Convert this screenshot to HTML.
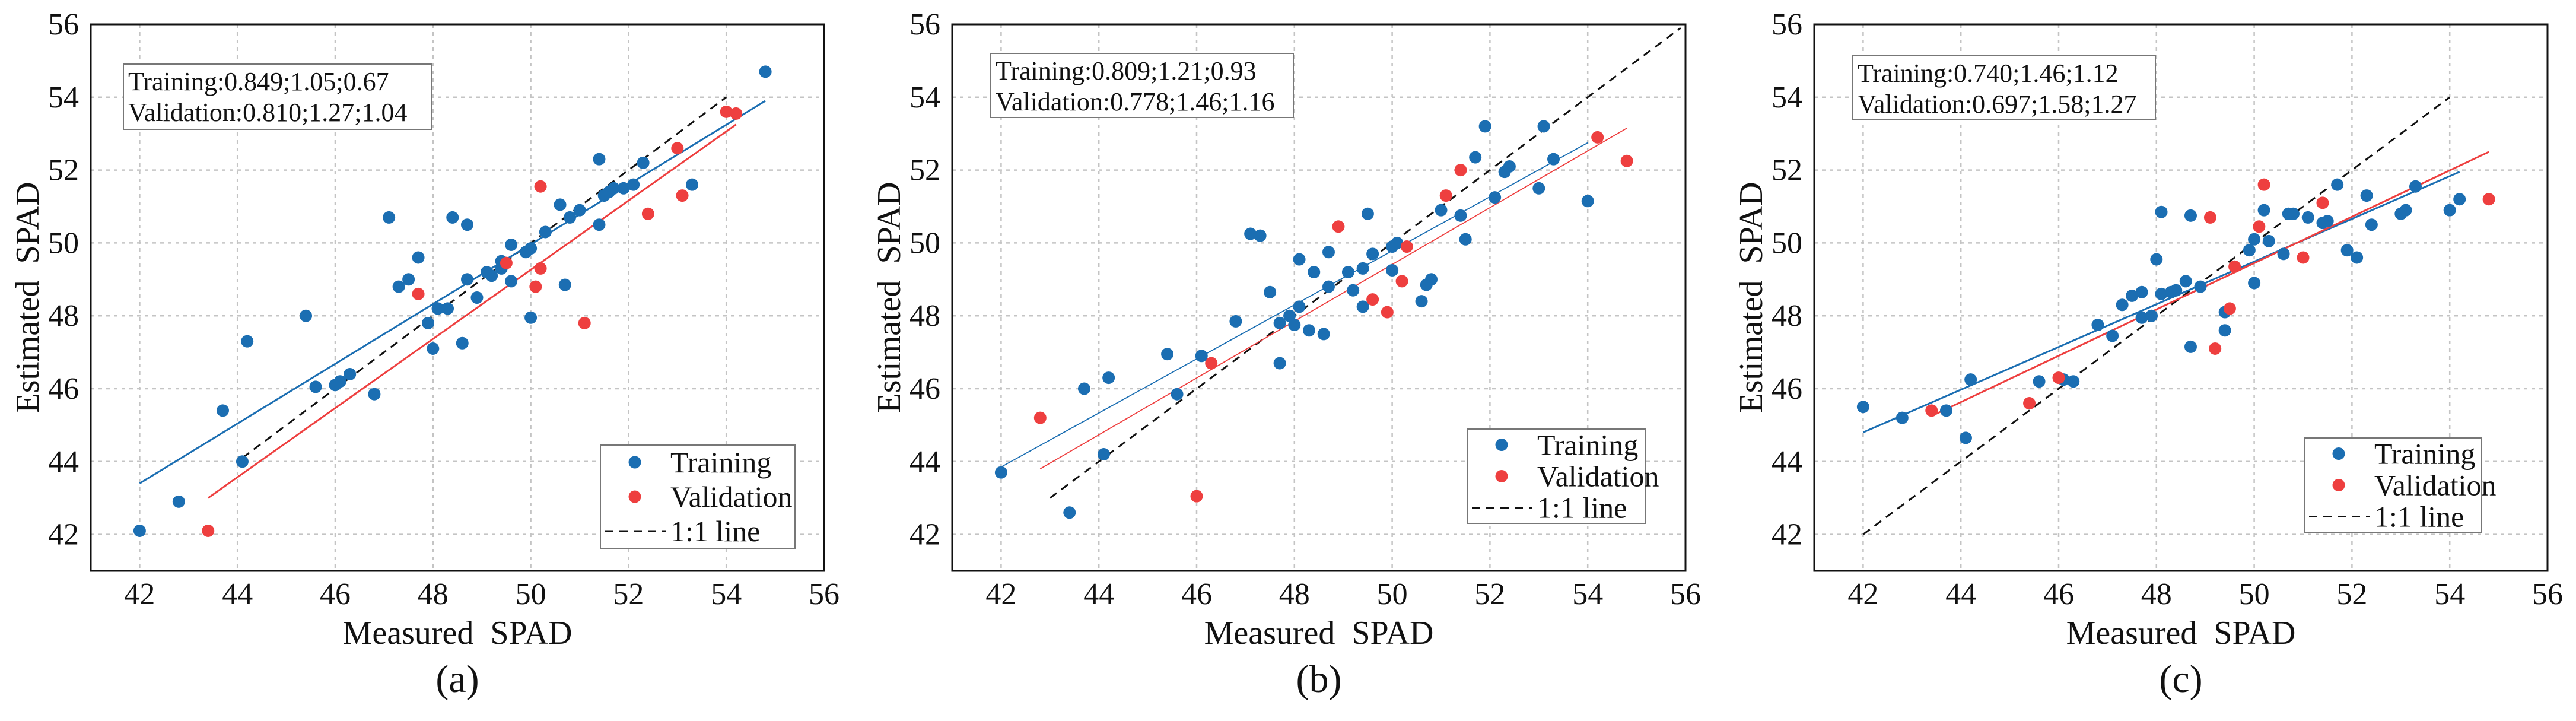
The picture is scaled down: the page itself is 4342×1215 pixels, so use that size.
<!DOCTYPE html>
<html><head><meta charset="utf-8"><style>
html,body{margin:0;padding:0;background:#fff;}
svg{display:block;font-family:"Liberation Serif",serif;}
text{white-space:pre;}
</style></head><body>
<svg id="fig" width="4342" height="1215" viewBox="0 0 4342 1215" xmlns="http://www.w3.org/2000/svg"></svg>
<script>
// ---- data ----
const ticks = [42,44,46,48,50,52,54,56];
const panelLabels = ["(a)","(b)","(c)"];
const statsTrain = ["Training:0.849;1.05;0.67","Training:0.809;1.21;0.93","Training:0.740;1.46;1.12"];
const statsVal = ["Validation:0.810;1.27;1.04","Validation:0.778;1.46;1.16","Validation:0.697;1.58;1.27"];
const trainA = [[42,42.1],[42.8,42.9],[43.7,45.4],[44.1,44.0],[44.2,47.3],[45.4,48.0],[45.6,46.05],[46,46.1],[46.1,46.2],[46.3,46.4],[46.8,45.85],[47.1,50.7],[47.3,48.8],[47.5,49.0],[47.7,49.6],[47.9,47.8],[48,47.1],[48.1,48.2],[48.3,48.2],[48.4,50.7],[48.6,47.25],[48.7,50.5],[48.7,49.0],[48.9,48.5],[49.1,49.2],[49.2,49.1],[49.4,49.3],[49.4,49.5],[49.6,49.95],[49.6,48.95],[49.9,49.75],[50,49.85],[50,47.95],[50.3,50.3],[50.6,51.05],[50.7,48.85],[50.8,50.7],[51,50.9],[51.4,52.3],[51.4,50.5],[51.5,51.3],[51.6,51.4],[51.7,51.5],[51.9,51.5],[52.1,51.6],[52.3,52.2],[53.3,51.6],[54.8,54.7]];
const valA = [[43.4,42.1],[47.7,48.6],[49.5,49.45],[50.1,48.8],[50.2,51.55],[50.2,49.3],[51.1,47.8],[52.4,50.8],[53,52.6],[53.1,51.3],[54,53.6],[54.2,53.55]];
const trainB = [[42,43.7],[43.4,42.6],[43.7,46.0],[44.1,44.2],[44.2,46.3],[45.4,46.95],[45.6,45.85],[46.1,46.9],[46.8,47.85],[47.1,50.25],[47.3,50.2],[47.5,48.65],[47.7,47.8],[47.7,46.7],[47.9,48.0],[48,47.75],[48.1,49.55],[48.1,48.25],[48.3,47.6],[48.4,49.2],[48.6,47.5],[48.7,49.75],[48.7,48.8],[49.1,49.2],[49.2,48.7],[49.4,49.3],[49.4,48.25],[49.5,50.8],[49.6,49.7],[50,49.9],[50,49.25],[50.1,50.0],[50.6,48.4],[50.7,48.85],[50.8,49.0],[51,50.9],[51.4,50.75],[51.5,50.1],[51.7,52.35],[51.9,53.2],[52.1,51.25],[52.3,51.95],[52.4,52.1],[53,51.5],[53.1,53.2],[53.3,52.3],[54,51.15]];
const valB = [[42.8,45.2],[46,43.05],[46.3,46.7],[48.9,50.45],[49.6,48.45],[49.9,48.1],[50.2,48.95],[50.3,49.9],[51.1,51.3],[51.4,52.0],[54.2,52.9],[54.8,52.25]];
const trainC = [[42,45.5],[42.8,45.2],[43.7,45.4],[44.1,44.65],[44.2,46.25],[45.6,46.2],[46.1,46.25],[46.3,46.2],[46.8,47.75],[47.1,47.45],[47.3,48.3],[47.5,48.55],[47.7,48.65],[47.7,47.95],[47.9,48.0],[48,49.55],[48.1,50.85],[48.1,48.6],[48.3,48.65],[48.4,48.7],[48.6,48.95],[48.7,50.75],[48.7,47.15],[48.9,48.8],[49.4,48.1],[49.4,47.6],[49.9,49.8],[50,50.1],[50,48.9],[50.2,50.9],[50.3,50.05],[50.6,49.7],[50.7,50.8],[50.8,50.8],[51.1,50.7],[51.4,50.55],[51.5,50.6],[51.7,51.6],[51.9,49.8],[52.1,49.6],[52.3,51.3],[52.4,50.5],[53,50.8],[53.1,50.9],[53.3,51.55],[54,50.9],[54.2,51.2]];
const valC = [[43.4,45.4],[45.4,45.6],[46,46.3],[49.1,50.7],[49.2,47.1],[49.5,48.2],[49.6,49.35],[50.1,50.45],[50.2,51.6],[51,49.6],[51.4,51.1],[54.8,51.2]];
const fitTrain = [[[42,43.4],[54.8,53.9]],[[42,43.85],[54,52.75]],[[42,44.8],[54.2,51.95]]];
const fitVal = [[[43.4,43.0],[54.2,53.25]],[[42.8,43.8],[54.8,53.15]],[[43.4,45.25],[54.8,52.5]]];
const oneToOne = [[44.1,54],[43,55.9],[42,54]];

const NS="http://www.w3.org/2000/svg";
const svg=document.getElementById('fig');
function el(tag,attrs,parent,text){const e=document.createElementNS(NS,tag);for(const k in attrs)e.setAttribute(k,attrs[k]);if(text!==undefined)e.textContent=text;(parent||svg).appendChild(e);return e;}
const BLUE="#1b6eb2", RED="#ee3f3f";
const panels=[
 {L:153,R:1389,train:trainA,val:valA,ann:[208,108,520,110],leg:[1012,750,328,174],lw:[3,3]},
 {L:1605,R:2841,train:trainB,val:valB,ann:[1670,90,510,108],leg:[2473,723,300,159],lw:[1.8,1.8]},
 {L:3058,R:4294,train:trainC,val:valC,ann:[3123,94,510,108],leg:[3884,738,299,159],lw:[3,3]}
];
const T=41,B=962,D0=41,D1=56;
panels.forEach((p,i)=>{
  const g=el('g',{});
  
  
  const sx=v=>p.L+(v-D0)/(D1-D0)*(p.R-p.L);
  const sy=v=>B-(v-D0)/(D1-D0)*(B-T);
  ticks.forEach(t=>{
    if(t<56){
      const gx=el('line',{x1:sx(t),x2:sx(t),y1:T,y2:B,stroke:"#c4c4c4","stroke-width":2.5,"stroke-dasharray":"6,7"},g);
      
      
      const gy=el('line',{x1:p.L,x2:p.R,y1:sy(t),y2:sy(t),stroke:"#c4c4c4","stroke-width":2.5,"stroke-dasharray":"6,7"},g);
      
      
    }
    const xt=el('text',{x:sx(t),y:1018,"font-size":52,"text-anchor":"middle",fill:"#111"},g,String(t));
    
    
    const yt=el('text',{x:p.L-20,y:sy(t)+17,"font-size":52,"text-anchor":"end",fill:"#111"},g,String(t));
    
    
  });
  const ol=oneToOne[i];
  const d=el('line',{x1:sx(ol[0]),y1:sy(ol[0]),x2:sx(ol[1]),y2:sy(ol[1]),stroke:"#111","stroke-width":3,"stroke-dasharray":"14,10"},g);
  
  
  const ft=fitTrain[i];
  const lt=el('line',{x1:sx(ft[0][0]),y1:sy(ft[0][1]),x2:sx(ft[1][0]),y2:sy(ft[1][1]),stroke:BLUE,"stroke-width":p.lw[0]},g);
  
  
  const fv=fitVal[i];
  const lv=el('line',{x1:sx(fv[0][0]),y1:sy(fv[0][1]),x2:sx(fv[1][0]),y2:sy(fv[1][1]),stroke:RED,"stroke-width":p.lw[1]},g);
  
  
  p.train.forEach(pt=>{
    const c=el('circle',{cx:sx(pt[0]),cy:sy(pt[1]),r:10.5,fill:BLUE},g);
    
    
  });
  p.val.forEach(pt=>{
    const c=el('circle',{cx:sx(pt[0]),cy:sy(pt[1]),r:10.5,fill:RED},g);
    
    
  });
  const fr=el('rect',{x:p.L,y:T,width:p.R-p.L,height:B-T,fill:"none",stroke:"#111","stroke-width":3},g);
  
  
  const a=p.ann;
  const ab=el('rect',{x:a[0],y:a[1],width:a[2],height:a[3],fill:"#fff",stroke:"#777","stroke-width":2},g);
  
  
  const at1=el('text',{x:a[0]+8,y:a[1]+44,"font-size":44,fill:"#111"},g,statsTrain[i]);
  
  
  const at2=el('text',{x:a[0]+8,y:a[1]+96,"font-size":44,fill:"#111"},g,statsVal[i]);
  
  
  const l=p.leg;
  const lb=el('rect',{x:l[0],y:l[1],width:l[2],height:l[3],fill:"#fff",stroke:"#777","stroke-width":2},g);
  
  
  const rowH=l[3]/3;
  const entries=[["Training",BLUE,"legend-training"],["Validation",RED,"legend-validation"],["1:1 line",null,"legend-one-to-one"]];
  entries.forEach((e,k)=>{
    const cy=l[1]+rowH*(k+0.5);
    if(e[1]){
      const c=el('circle',{cx:l[0]+58,cy:cy,r:10.5,fill:e[1]},g);
      
      
    } else {
      const ln=el('line',{x1:l[0]+8,x2:l[0]+110,y1:cy,y2:cy,stroke:"#111","stroke-width":3,"stroke-dasharray":"14,10"},g);
      
      
    }
    const tx=el('text',{x:l[0]+118,y:cy+17,"font-size":50,fill:"#111"},g,e[0]);
    
    
  });
  const xt=el('text',{x:(p.L+p.R)/2,y:1085,"font-size":56,"text-anchor":"middle",fill:"#111"},g,"Measured  SPAD");
  
  
  const yx=p.L-88, yy=(T+B)/2;
  const yt=el('text',{x:yx,y:yy,"font-size":56,"text-anchor":"middle",fill:"#111",transform:`rotate(-90 ${yx} ${yy})`},g,"Estimated  SPAD");
  
  
  const pl=el('text',{x:(p.L+p.R)/2,y:1166,"font-size":66,"text-anchor":"middle",fill:"#111"},g,panelLabels[i]);
  
  
});
</script>
</body></html>
